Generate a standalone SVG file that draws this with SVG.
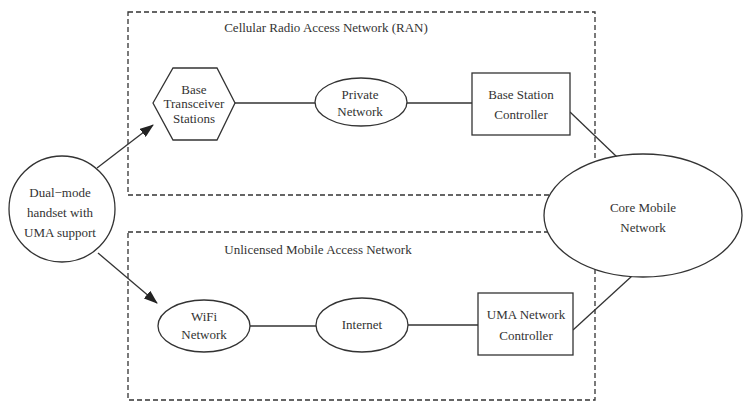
<svg xmlns="http://www.w3.org/2000/svg" width="743" height="403" viewBox="0 0 743 403">
  <style>
    text { font-family: "Liberation Serif", "Times New Roman", serif; font-size: 13px; fill: #333; text-anchor: middle; }
    .shape { fill: #fff; stroke: #333; stroke-width: 1.3; }
    .region { fill: none; stroke: #333; stroke-width: 1.3; stroke-dasharray: 5 3; }
    .link { fill: none; stroke: #333; stroke-width: 1.3; }
  </style>
  <defs>
    <marker id="arrow" markerWidth="14" markerHeight="10" refX="13" refY="5" orient="auto" markerUnits="userSpaceOnUse">
      <path d="M0,0 L14,5 L0,10 Z" fill="#222"/>
    </marker>
  </defs>
  <rect width="743" height="403" fill="#fff"/>

  <!-- access network regions -->
  <g id="ran-region">
    <rect class="region" x="128" y="12" width="467" height="183"/>
    <text x="326" y="32">Cellular Radio Access Network (RAN)</text>
  </g>
  <g id="uman-region">
    <rect class="region" x="128" y="232" width="467" height="168"/>
    <text x="318" y="254">Unlicensed Mobile Access Network</text>
  </g>

  <!-- connectors -->
  <g id="connectors">
    <line class="link" x1="97" y1="168" x2="153" y2="125" marker-end="url(#arrow)"/>
    <line class="link" x1="98" y1="253" x2="157" y2="303" marker-end="url(#arrow)"/>
    <line class="link" x1="235" y1="103" x2="315" y2="103"/>
    <line class="link" x1="407" y1="103" x2="472" y2="103"/>
    <line class="link" x1="570" y1="112" x2="617" y2="157"/>
    <line class="link" x1="250" y1="326" x2="316" y2="326"/>
    <line class="link" x1="408" y1="325" x2="478" y2="325"/>
    <line class="link" x1="573" y1="330" x2="632" y2="276"/>
  </g>

  <!-- nodes -->
  <g id="handset">
    <circle class="shape" cx="62" cy="209" r="53"/>
    <text x="60" y="197">Dual−mode</text>
    <text x="60" y="217">handset with</text>
    <text x="60" y="237">UMA support</text>
  </g>
  <g id="bts">
    <polygon class="shape" points="153,103 173,68 217,68 235,103 217,140 173,140"/>
    <text x="194" y="94">Base</text>
    <text x="194" y="108">Transceiver</text>
    <text x="194" y="123">Stations</text>
  </g>
  <g id="private-network">
    <ellipse class="shape" cx="361" cy="102" rx="46" ry="24"/>
    <text x="360" y="99">Private</text>
    <text x="360" y="116">Network</text>
  </g>
  <g id="bsc">
    <rect class="shape" x="472" y="73" width="98" height="62"/>
    <text x="521" y="99">Base Station</text>
    <text x="521" y="119">Controller</text>
  </g>
  <g id="wifi">
    <ellipse class="shape" cx="204" cy="326" rx="46" ry="26"/>
    <text x="204" y="321">WiFi</text>
    <text x="204" y="339">Network</text>
  </g>
  <g id="internet">
    <ellipse class="shape" cx="362" cy="325" rx="46" ry="27"/>
    <text x="362" y="329">Internet</text>
  </g>
  <g id="unc">
    <rect class="shape" x="478" y="293" width="95" height="62"/>
    <text x="526" y="319">UMA Network</text>
    <text x="526" y="340">Controller</text>
  </g>
  <g id="core">
    <ellipse class="shape" cx="643" cy="215.5" rx="99" ry="61.5"/>
    <text x="643" y="212">Core Mobile</text>
    <text x="643" y="232">Network</text>
  </g>
</svg>
